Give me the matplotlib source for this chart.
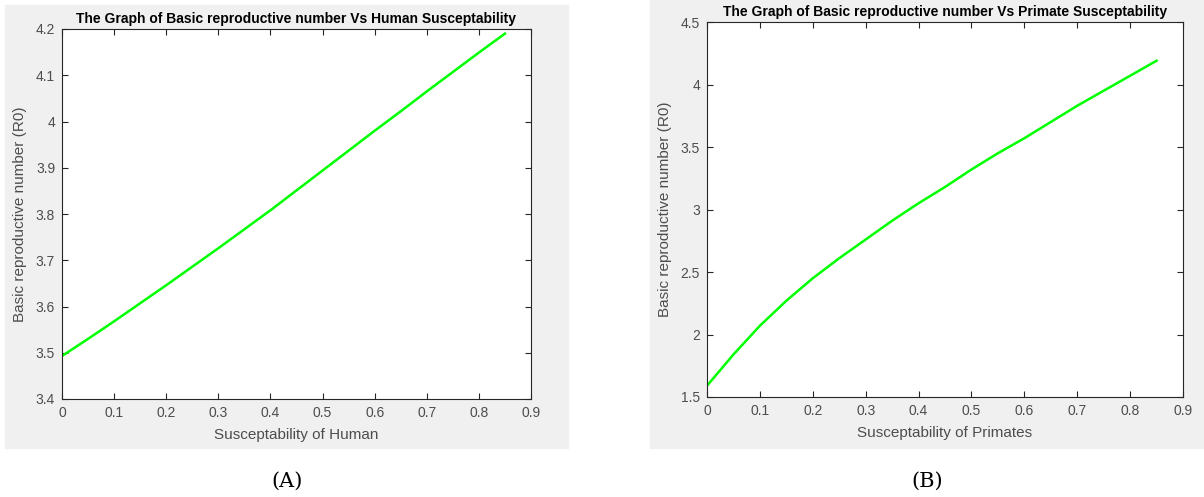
import matplotlib.pyplot as plt
from matplotlib.patches import Rectangle

# susceptibility values (x) and R0
sus = [0.0, 0.05, 0.1, 0.15, 0.2, 0.25, 0.3, 0.35, 0.4, 0.45,
       0.5, 0.55, 0.6, 0.65, 0.7, 0.75, 0.8, 0.85]
r0_human = [3.493, 3.530, 3.568, 3.607, 3.646, 3.686, 3.726, 3.767, 3.808, 3.851,
            3.894, 3.937, 3.980, 4.022, 4.065, 4.107, 4.149, 4.190]
r0_primate = [1.59, 1.84, 2.07, 2.27, 2.45, 2.61, 2.76, 2.91, 3.05, 3.18,
              3.32, 3.45, 3.57, 3.70, 3.83, 3.95, 4.07, 4.19]

xticks = [0, 0.1, 0.2, 0.3, 0.4, 0.5, 0.6, 0.7, 0.8, 0.9]
yticks_h = [3.4, 3.5, 3.6, 3.7, 3.8, 3.9, 4.0, 4.1, 4.2]
yticks_p = [1.5, 2.0, 2.5, 3.0, 3.5, 4.0, 4.5]
ylabels_h = ['3.4', '3.5', '3.6', '3.7', '3.8', '3.9', '4', '4.1', '4.2']
ylabels_p = ['1.5', '2', '2.5', '3', '3.5', '4', '4.5']
xlabels = ['0', '0.1', '0.2', '0.3', '0.4', '0.5', '0.6', '0.7', '0.8', '0.9']

plt.rcParams['font.family'] = ['Liberation Sans', 'DejaVu Sans']

fig = plt.figure(figsize=(12.04, 4.97), dpi=100)
W, H = 1204, 497

# grey MATLAB figure backgrounds (behind the axes)
fig.patches.append(Rectangle((5 / W, 1 - 448 / H), 563 / W, 443 / H,
                             transform=fig.transFigure, color='#f0f0f0', zorder=-5))
fig.patches.append(Rectangle((650 / W, 1 - 448 / H), 554 / W, 448 / H,
                             transform=fig.transFigure, color='#f0f0f0', zorder=-5))


def make_axes(x0, y0, x1, y1):
    return fig.add_axes([x0 / W, 1 - y1 / H, (x1 - x0) / W, (y1 - y0) / H])


ax1 = make_axes(62, 29, 531, 399)
ax2 = make_axes(707, 22, 1183, 397)

panels = [
    (ax1, r0_human, yticks_h, ylabels_h, 'Susceptability of Human',
     'The Graph of Basic reproductive number Vs Human Susceptability'),
    (ax2, r0_primate, yticks_p, ylabels_p, 'Susceptability of Primates',
     'The Graph of Basic reproductive number Vs Primate Susceptability'),
]

for ax, r0, yt, yl, xl, title in panels:
    ax.plot(sus, r0, color='#00ff00', linewidth=1.8)
    ax.set_xlim(0, 0.9)
    ax.set_ylim(yt[0], yt[-1])
    ax.set_xticks(xticks)
    ax.set_xticklabels(xlabels)
    ax.set_yticks(yt)
    ax.set_yticklabels(yl)
    ax.tick_params(direction='in', length=4, width=0.8, top=True, right=True,
                   labelsize=10, colors='#262626', labelcolor='#4d4d4d', pad=5)
    for s in ax.spines.values():
        s.set_color('#262626')
        s.set_linewidth(0.8)
    ax.set_xlabel(xl, fontsize=11, color='#4d4d4d', labelpad=6)
    ax.set_ylabel('Basic reproductive number (R0)', fontsize=11, color='#4d4d4d', labelpad=6)
    ax.set_title(title, fontsize=10, fontweight='bold', color='black', pad=4)

fig.text(287 / W, 1 - 481 / H, '(A)', fontsize=15, family='DejaVu Serif',
         ha='center', va='center')
fig.text(927 / W, 1 - 481 / H, '(B)', fontsize=15, family='DejaVu Serif',
         ha='center', va='center')

fig.savefig('out.png', dpi=100)
